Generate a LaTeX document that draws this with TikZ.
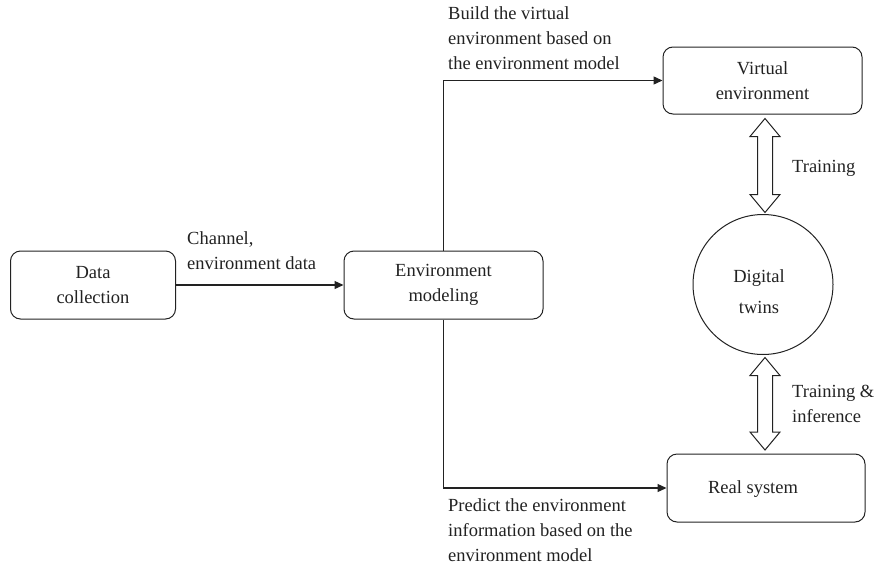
\documentclass[tikz,border=0pt]{standalone}
\usepackage{fontspec}
\setmainfont{Liberation Serif}
\usetikzlibrary{arrows.meta,calc}
\definecolor{ink}{HTML}{222222}
% hollow two-headed arrow between a top tip and a bottom tip
\newcommand{\hollowpair}[2]{%
  \draw[hollow] (#1) -- ($(#1)+(15,18)$) -- ($(#1)+(7.5,18)$)
    -- ($(#2)+(7.5,-18)$) -- ($(#2)+(15,-18)$) -- (#2)
    -- ($(#2)+(-15,-18)$) -- ($(#2)+(-7.5,-18)$)
    -- ($(#1)+(-7.5,18)$) -- ($(#1)+(-15,18)$) -- cycle;}
\begin{document}
\begin{tikzpicture}[x=1pt,y=-1pt,
  txt/.style={font=\fontsize{18.5}{25}\selectfont, text=ink},
  box/.style={txt, draw=ink, line width=1pt, rounded corners=10pt,
    align=center, inner sep=0pt},
  conn/.style={draw=ink, line width=1.3pt, -{Triangle[length=9pt,width=8pt]}},
  hollow/.style={draw=ink, line width=1pt, fill=white, line join=miter},
  note/.style={txt, align=left, inner sep=0pt, anchor=west}]
\useasboundingbox (0,0) rectangle (875,570);

% blocks
\node[box, minimum width=165pt, minimum height=68pt] (dc) at (93,285) {Data\\collection};
\node[box, minimum width=199pt, minimum height=68pt] (em) at (443.5,285) {Environment\\modeling};
\node[box, minimum width=199pt, minimum height=67pt] (ve) at (762.5,80.5) {Virtual\\environment};
\node[box, minimum width=198pt, minimum height=68pt] (rs) at (766,488) {};
\node[txt, inner sep=0pt] (rsl) at ($(rs.center)+(-13,1)$) {Real system};
\node[draw=ink, line width=1pt, circle, minimum size=140pt, inner sep=0pt] (dt) at (763,284.5) {};
\node[txt, align=center, inner sep=0pt] (dtl) at ($(dt.center)+(-4,7)$) {Digital\\[6pt]twins};

% data flow
\draw[conn] (dc.east) -- (em.west);
\draw[conn] (em.north) |- (ve.west);
\draw[conn] (em.south) |- (rs.west);

% two-way links with the digital twin
\coordinate (ua) at (dt.center |- ve.south);
\coordinate (ub) at (dt.north);
\coordinate (la) at (dt.south);
\coordinate (lb) at (dt.center |- rs.north);
\hollowpair{$(ua)+(2,4)$}{$(ub)+(2,-1.5)$}
\hollowpair{$(la)+(2,2.5)$}{$(lb)+(2,-3.5)$}

% annotations
\node[note] (n1) at (187,251) {Channel,\\environment data};
\node[note] (n2) at (448,38) {Build the virtual\\environment based on\\the environment model};
\node[note] (n3) at (448,530) {Predict the environment\\information based on the\\environment model};
\node[note] (n4) at (792,168) {Training};
\node[note] (n5) at (792,403.5) {Training \&\\inference};
\end{tikzpicture}
\end{document}
